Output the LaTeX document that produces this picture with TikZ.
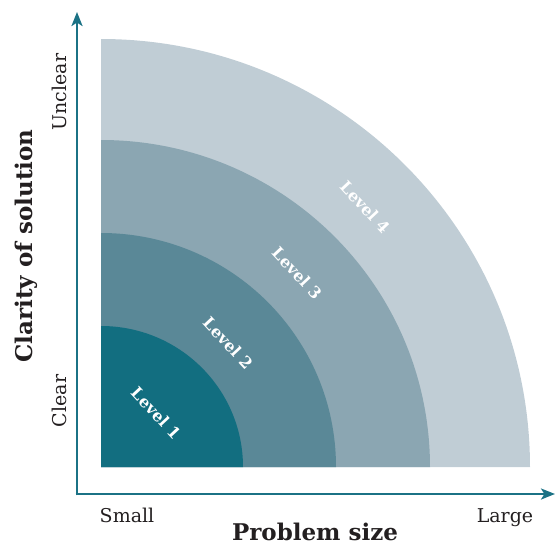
\documentclass[tikz,border=0pt]{standalone}
\usepackage{fontspec}
\usepackage{graphicx}
\setmainfont{DejaVu Serif}
\usetikzlibrary{arrows.meta}
\definecolor{lvA}{HTML}{126E80}
\definecolor{lvB}{HTML}{5A8897}
\definecolor{lvC}{HTML}{8BA6B2}
\definecolor{lvD}{HTML}{C0CDD5}
\definecolor{axcol}{HTML}{1B7285}
\definecolor{txt}{HTML}{231F20}
\tikzset{
  axis/.style={draw=axcol, line width=2.8pt, -{Stealth[length=14pt,width=11pt,inset=3.5pt]}},
  ticklab/.style={text=txt, font=\fontsize{19}{21}\selectfont, inner sep=0pt, anchor=base},
  axlab/.style={text=txt, font=\bfseries\fontsize{23}{25}\selectfont, inner sep=0pt, anchor=base},
  lvlab/.style={text=white, font=\bfseries\fontsize{16}{18}\selectfont, inner sep=0pt, rotate=-47},
}
\begin{document}
\begin{tikzpicture}[x=1pt,y=-1pt]
\useasboundingbox (0,0) rectangle (555,544);
\coordinate (C) at (101,467);
% quarter bands, largest first
\fill[lvD] (C) -- ++(429,0) arc[start angle=0,end angle=-90,x radius=429,y radius=428] -- cycle;
\fill[lvC] (C) -- ++(329,0) arc[start angle=0,end angle=-90,x radius=329,y radius=327] -- cycle;
\fill[lvB] (C) -- ++(235,0) arc[start angle=0,end angle=-90,x radius=235,y radius=234] -- cycle;
\fill[lvA] (C) -- ++(142,0) arc[start angle=0,end angle=-90,x radius=142,y radius=141] -- cycle;
% axes
\coordinate (O) at (77,494);
\coordinate (Ytip) at (77,12);
\coordinate (Xtip) at (555,494);
\draw[axis] ([yshift=-1.4pt]O) -- (Ytip);
\draw[axis] ([xshift=-1.4pt]O) -- (Xtip);
% level labels
\node[lvlab] (l1) at (156,413) {Level 1};
\node[lvlab] (l2) at (228,343) {Level 2};
\node[lvlab] (l3) at (297,273) {Level 3};
\node[lvlab] (l4) at (365,207) {Level 4};
% tick labels
\node[ticklab] (small) at (127,522) {Small};
\node[ticklab] (large) at (505,522) {Large};
\node[ticklab, rotate=90] (unclear) at (66,92) {Unclear};
\node[ticklab, rotate=90] (clear) at (66,401) {Clear};
% axis titles
\node[axlab] (px) at (315,540) {Problem size};
\node[axlab, rotate=90] (py) at (32,246) {Clarity of solution};
\end{tikzpicture}
\end{document}
